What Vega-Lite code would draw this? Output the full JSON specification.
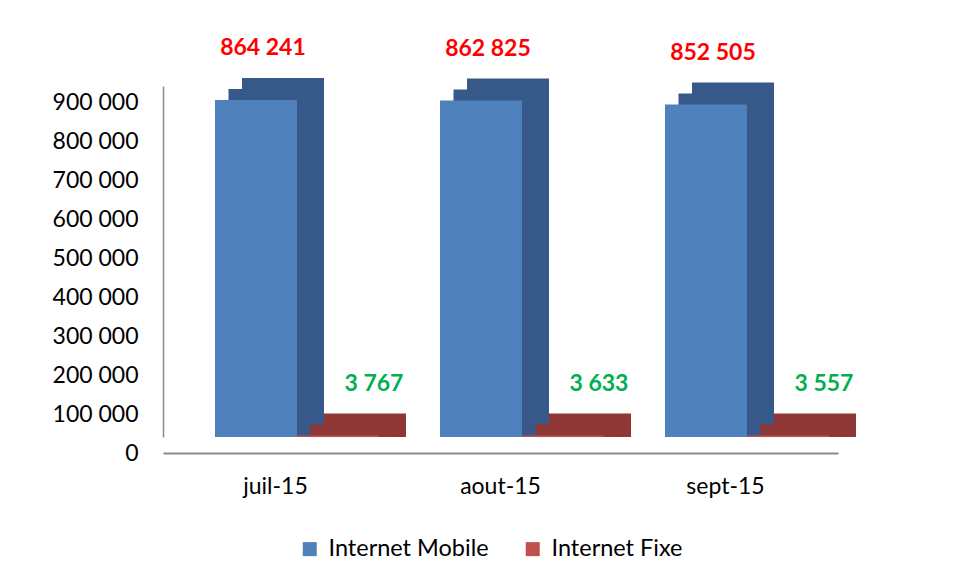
{
  "$schema": "https://vega.github.io/schema/vega-lite/v6.json",
  "width": 675,
  "height": 351,
  "autosize": {"type": "none"},
  "padding": {"left": 163, "top": 86, "right": 118, "bottom": 142},
  "background": "white",
  "config": {
    "view": {"stroke": null},
    "font": "Lato",
    "locale": {"number": {"decimal": ",", "thousands": " ", "grouping": [3], "currency": ["", " €"]}}
  },
  "data": {
    "values": [
      {"month": "juil-15", "series": "Internet Mobile", "value": 864241},
      {"month": "juil-15", "series": "Internet Fixe", "value": 3767},
      {"month": "aout-15", "series": "Internet Mobile", "value": 862825},
      {"month": "aout-15", "series": "Internet Fixe", "value": 3633},
      {"month": "sept-15", "series": "Internet Mobile", "value": 852505},
      {"month": "sept-15", "series": "Internet Fixe", "value": 3557}
    ]
  },
  "encoding": {
    "x": {
      "field": "month",
      "type": "nominal",
      "sort": ["juil-15", "aout-15", "sept-15"],
      "scale": {"paddingInner": 0, "paddingOuter": 0},
      "axis": {
        "title": null,
        "labelAngle": 0,
        "ticks": false,
        "offset": 16,
        "domainColor": "#8c8c8c",
        "domainWidth": 2,
        "labelFontSize": 23,
        "labelColor": "#000000",
        "labelPadding": 22
      }
    },
    "y": {
      "field": "value",
      "type": "quantitative",
      "scale": {"domain": [0, 900000], "nice": false},
      "axis": {
        "title": null,
        "grid": false,
        "ticks": false,
        "values": [0, 100000, 200000, 300000, 400000, 500000, 600000, 700000, 800000, 900000],
        "format": ",d",
        "labelFontSize": 23,
        "labelColor": "#000000",
        "labelPadding": 25,
        "labelOffset": 16,
        "domainColor": "#8c8c8c",
        "domainWidth": 1.5
      }
    }
  },
  "layer": [
    {
      "transform": [{"filter": "datum.series === 'Internet Mobile'"}],
      "mark": {"type": "bar", "xOffset": 7.5, "yOffset": -22, "y2Offset": 0, "width": {"band": 0.3644}, "color": "#36598A"},
      "encoding": {"y2": {"datum": 0}}
    },
    {
      "transform": [{"filter": "datum.series === 'Internet Mobile'"}],
      "mark": {"type": "bar", "xOffset": -6, "yOffset": -11, "y2Offset": 0, "width": {"band": 0.3644}, "color": "#36598A"},
      "encoding": {"y2": {"datum": 0}}
    },
    {
      "transform": [{"filter": "datum.series === 'Internet Fixe'"}],
      "mark": {"type": "bar", "xOffset": 89.5, "yOffset": -22, "y2Offset": 0, "width": {"band": 0.3644}, "color": "#8F3735"},
      "encoding": {"y2": {"datum": 0}}
    },
    {
      "transform": [{"filter": "datum.series === 'Internet Fixe'"}],
      "mark": {"type": "bar", "xOffset": 76, "yOffset": -11, "y2Offset": 0, "width": {"band": 0.3644}, "color": "#8F3735"},
      "encoding": {"y2": {"datum": 0}}
    },
    {
      "mark": {"type": "bar"},
      "encoding": {
        "xOffset": {
          "field": "series",
          "type": "nominal",
          "sort": ["Internet Mobile", "Internet Fixe"],
          "scale": {"paddingInner": 0, "paddingOuter": 0.372, "align": 0.852}
        },
        "color": {
          "field": "series",
          "type": "nominal",
          "sort": ["Internet Mobile", "Internet Fixe"],
          "scale": {"domain": ["Internet Mobile", "Internet Fixe"], "range": ["#4F81BD", "#C0504D"]},
          "legend": {
            "orient": "none",
            "legendX": 135,
            "legendY": 451,
            "direction": "horizontal",
            "title": null,
            "symbolType": "square",
            "symbolSize": 196,
            "symbolStrokeWidth": 0,
            "labelFontSize": 23.5,
            "labelLimit": 400,
            "labelColor": "#000000",
            "labelOffset": 7,
            "columnPadding": 32,
            "padding": 0
          }
        }
      }
    },
    {
      "transform": [{"filter": "datum.series === 'Internet Mobile'"}],
      "mark": {"type": "text", "dx": 7, "dy": -51.5, "baseline": "middle", "fontSize": 23, "fontWeight": "bold", "color": "#FF0000"},
      "encoding": {
        "xOffset": {
          "field": "series",
          "type": "nominal",
          "sort": ["Internet Mobile", "Internet Fixe"],
          "scale": {"paddingInner": 0, "paddingOuter": 0.372, "align": 0.852}
        },
        "text": {"field": "value", "type": "quantitative", "format": ",d"}
      }
    },
    {
      "transform": [{"filter": "datum.series === 'Internet Fixe'"}],
      "mark": {"type": "text", "dx": 36, "dy": -51.5, "baseline": "middle", "fontSize": 23, "fontWeight": "bold", "color": "#00B050"},
      "encoding": {
        "xOffset": {
          "field": "series",
          "type": "nominal",
          "sort": ["Internet Mobile", "Internet Fixe"],
          "scale": {"paddingInner": 0, "paddingOuter": 0.372, "align": 0.852}
        },
        "text": {"field": "value", "type": "quantitative", "format": ",d"}
      }
    }
  ]
}
